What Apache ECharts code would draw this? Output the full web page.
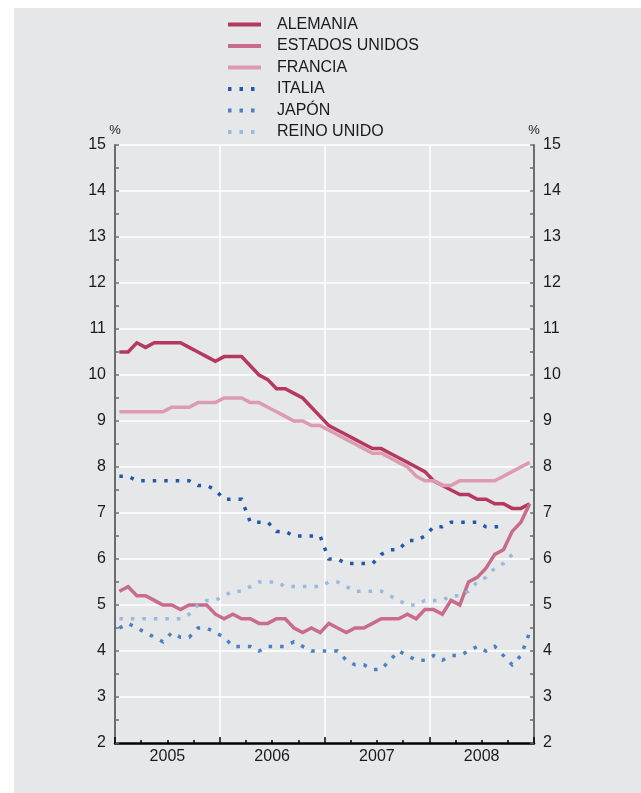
<!DOCTYPE html>
<html>
<head>
<meta charset="utf-8">
<script src="https://cdn.jsdelivr.net/npm/echarts@6/dist/echarts.min.js"></script>
<style>
  html, body { margin: 0; padding: 0; background: #ffffff; }
  #fondo { position: absolute; left: 14px; top: 8px; width: 627px; height: 785px; background: #e6e7e9; }
  #chart { position: absolute; left: 0; top: 0; width: 641px; height: 793px; }
</style>
</head>
<body>
<div id="fondo"></div>
<div id="chart"></div>
<script>
// tasas de paro mensuales, ene-2005 a dic-2008
var meses = [
    'ene-05','feb-05','mar-05','abr-05','may-05','jun-05','jul-05','ago-05','sep-05','oct-05','nov-05','dic-05',
    'ene-06','feb-06','mar-06','abr-06','may-06','jun-06','jul-06','ago-06','sep-06','oct-06','nov-06','dic-06',
    'ene-07','feb-07','mar-07','abr-07','may-07','jun-07','jul-07','ago-07','sep-07','oct-07','nov-07','dic-07',
    'ene-08','feb-08','mar-08','abr-08','may-08','jun-08','jul-08','ago-08','sep-08','oct-08','nov-08','dic-08'
];
var anios = ['2005', '2006', '2007', '2008'];

var alemania = [10.5,10.5,10.7,10.6,10.7,10.7,10.7,10.7,10.6,10.5,10.4,10.3,
                10.4,10.4,10.4,10.2,10.0,9.9,9.7,9.7,9.6,9.5,9.3,9.1,
                8.9,8.8,8.7,8.6,8.5,8.4,8.4,8.3,8.2,8.1,8.0,7.9,
                7.7,7.6,7.5,7.4,7.4,7.3,7.3,7.2,7.2,7.1,7.1,7.2];
var eeuu = [5.3,5.4,5.2,5.2,5.1,5.0,5.0,4.9,5.0,5.0,5.0,4.8,
            4.7,4.8,4.7,4.7,4.6,4.6,4.7,4.7,4.5,4.4,4.5,4.4,
            4.6,4.5,4.4,4.5,4.5,4.6,4.7,4.7,4.7,4.8,4.7,4.9,
            4.9,4.8,5.1,5.0,5.5,5.6,5.8,6.1,6.2,6.6,6.8,7.2];
var francia = [9.2,9.2,9.2,9.2,9.2,9.2,9.3,9.3,9.3,9.4,9.4,9.4,
               9.5,9.5,9.5,9.4,9.4,9.3,9.2,9.1,9.0,9.0,8.9,8.9,
               8.8,8.7,8.6,8.5,8.4,8.3,8.3,8.2,8.1,8.0,7.8,7.7,
               7.7,7.6,7.6,7.7,7.7,7.7,7.7,7.7,7.8,7.9,8.0,8.1];
var italia = [7.8,7.8,7.7,7.7,7.7,7.7,7.7,7.7,7.7,7.6,7.6,7.5,
              7.3,7.3,7.3,6.8,6.8,6.8,6.6,6.6,6.5,6.5,6.5,6.5,
              6.0,6.0,5.9,5.9,5.9,5.9,6.1,6.2,6.2,6.4,6.4,6.5,
              6.7,6.7,6.8,6.8,6.8,6.8,6.7,6.7,6.7];
var japon = [4.5,4.6,4.5,4.4,4.3,4.2,4.4,4.3,4.3,4.5,4.5,4.4,
             4.3,4.1,4.1,4.1,4.0,4.1,4.1,4.1,4.2,4.1,4.0,4.0,
             4.0,4.0,3.8,3.7,3.7,3.6,3.6,3.8,4.0,3.9,3.8,3.8,
             3.9,3.8,3.9,3.9,4.0,4.1,4.0,4.1,3.9,3.7,3.9,4.4];
var reinoUnido = [4.7,4.7,4.7,4.7,4.7,4.7,4.7,4.7,4.8,5.0,5.1,5.1,
                  5.2,5.3,5.3,5.4,5.5,5.5,5.5,5.4,5.4,5.4,5.4,5.4,
                  5.5,5.5,5.4,5.3,5.3,5.3,5.3,5.2,5.1,5.0,5.0,5.1,
                  5.1,5.1,5.2,5.2,5.3,5.5,5.6,5.8,5.9,6.1];

var fuente = "'Liberation Sans', Arial, sans-serif";
var texto = '#1a1a1a';
var punteado = [3.5, 8];

function linea(nombre, datos, color, tipo) {
    return {
        name: nombre,
        type: 'line',
        xAxisIndex: 0,
        yAxisIndex: 0,
        data: datos,
        symbol: 'none',
        animation: false,
        lineStyle: { color: color, width: 3.5, type: tipo, cap: 'butt', join: 'miter' },
        itemStyle: { color: color }
    };
}

function ejeY(posicion, rejilla) {
    return {
        type: 'value',
        position: posicion,
        min: 2,
        max: 15,
        interval: 1,
        name: '%',
        nameLocation: 'end',
        nameGap: 10,
        nameTextStyle: { fontFamily: fuente, fontSize: 13, color: texto, align: 'center', verticalAlign: 'middle' },
        axisLine: { show: true, lineStyle: { color: '#6b6c6e', width: 2 } },
        axisTick: { show: true, inside: true, length: 4, lineStyle: { color: '#6b6c6e', width: 1.5 } },
        minorTick: { show: true, splitNumber: 2, length: 4, lineStyle: { color: '#6b6c6e', width: 1.5 } },
        axisLabel: { fontFamily: fuente, fontSize: 16, color: texto, margin: 9 },
        splitLine: { show: rejilla, lineStyle: { color: '#ffffff', width: 1.5 } }
    };
}

var myChart = echarts.init(document.getElementById('chart'));
var option = {
    animation: false,
    backgroundColor: 'transparent',
    grid: { left: 115, right: 107, top: 145, bottom: 50, containLabel: false },
    legend: {
        orient: 'vertical',
        left: 221,
        top: 11.5,
        itemWidth: 33,
        itemHeight: 8,
        itemGap: 5.5,
        itemStyle: { color: 'transparent', borderWidth: 0, opacity: 0 },
        lineStyle: { width: 4 },
        textStyle: { fontFamily: fuente, fontSize: 16, color: texto, lineHeight: 16, padding: [0, 0, 0, 11] },
        data: ['ALEMANIA', 'ESTADOS UNIDOS', 'FRANCIA', 'ITALIA', 'JAPÓN', 'REINO UNIDO']
    },
    xAxis: [
        {
            type: 'category',
            data: meses,
            boundaryGap: true,
            show: false
        },
        {
            type: 'value',
            min: 0,
            max: 48,
            interval: 12,
            position: 'bottom',
            axisLine: { show: true, lineStyle: { color: '#000000', width: 2.5 } },
            axisTick: { show: true, inside: true, length: 6, lineStyle: { color: '#000000', width: 1.5 } },
            minorTick: { show: true, splitNumber: 4, length: 3, lineStyle: { color: '#000000', width: 1.5 } },
            axisLabel: { show: false },
            splitLine: { show: true, lineStyle: { color: '#ffffff', width: 1.5 } }
        },
        {
            type: 'category',
            data: anios,
            position: 'bottom',
            boundaryGap: true,
            axisLine: { show: false },
            axisTick: { show: false },
            axisLabel: { fontFamily: fuente, fontSize: 16, color: texto, margin: 6 },
            splitLine: { show: false }
        }
    ],
    yAxis: [ejeY('left', true), ejeY('right', false)],
    series: [
        linea('ALEMANIA', alemania, '#b5395f', 'solid'),
        linea('ESTADOS UNIDOS', eeuu, '#c96c8c', 'solid'),
        linea('FRANCIA', francia, '#dc9bb0', 'solid'),
        linea('ITALIA', italia, '#2258a8', punteado),
        linea('JAPÓN', japon, '#4a80c4', punteado),
        linea('REINO UNIDO', reinoUnido, '#98badf', punteado)
    ]
};
myChart.setOption(option, true);
</script>
</body>
</html>
